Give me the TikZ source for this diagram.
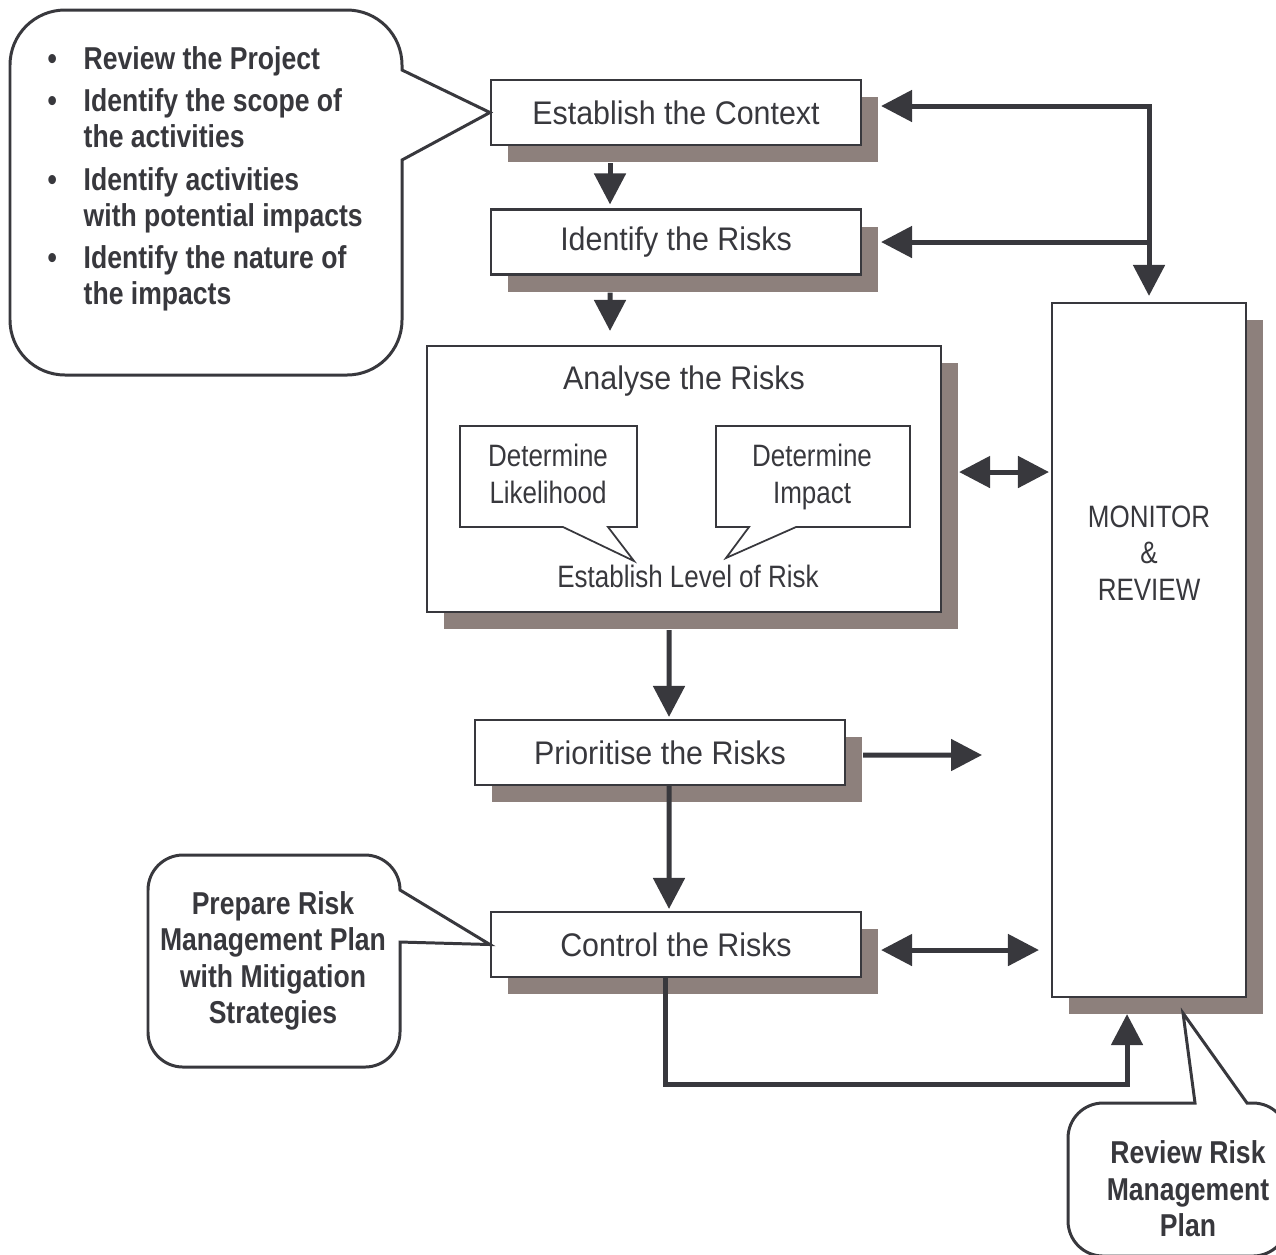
\documentclass[tikz,border=0pt]{standalone}
\usepackage{fontspec}
\setmainfont{Liberation Sans}
\newfontfamily\regfont[FakeStretch=0.93]{Liberation Sans}
\newfontfamily\narrowfont[FakeStretch=0.84]{Liberation Sans}
\usetikzlibrary{calc,arrows.meta,shadows}
\definecolor{ink}{RGB}{56,56,61}
\definecolor{shadowgray}{RGB}{141,128,124}

\begin{document}
\begin{tikzpicture}[x=0.1mm,y=-0.1mm,
    >={Triangle[length=3.1mm,width=3.1mm]},
    stage/.style={draw=ink, line width=0.6pt, fill=white, inner sep=0pt,
        minimum width=3.7cm, minimum height=0.65cm, text=ink,
        font=\regfont\fontsize{9.3pt}{11pt}\selectfont,
        drop shadow={shadow xshift=1.7mm, shadow yshift=-1.7mm, fill=shadowgray, opacity=1}},
    flow/.style={draw=ink, line width=0.5mm, ->},
    twoway/.style={draw=ink, line width=0.5mm, <->},
    balloon/.style={draw=ink, line width=0.85pt, fill=white},
    tag/.style={draw=ink, line width=0.5pt, fill=white},
    note/.style={text=ink, inner sep=0pt, align=center,
        font=\narrowfont\bfseries\fontsize{9pt}{10.4pt}\selectfont},
    small/.style={text=ink, inner sep=0pt, align=center,
        font=\narrowfont\fontsize{8.8pt}{10.3pt}\selectfont}]
    \useasboundingbox (0,0) rectangle (1276,1254);
    \clip (0,0) rectangle (1276,1254);

    % process boxes
    \node[stage] (ctx) at (676,112.5) {Establish the Context};
    \node[stage] (ident) at (676,242) {Identify the Risks};
    \node[stage, minimum width=5.14cm, minimum height=2.66cm] (anal) at (684,479) {};
    \node[stage] (prio) at (660,752.5) {Prioritise the Risks};
    \node[stage] (ctrl) at (676,944.5) {Control the Risks};
    \node[stage, minimum width=1.94cm, minimum height=6.94cm] (mon) at (1149,650) {};
    \node[small] (montxt) at (1149,553) {MONITOR\\\&\\REVIEW};

    % inside the analysis box
    \node[text=ink, font=\regfont\fontsize{9.3pt}{11pt}\selectfont] (analtxt) at (684,381) {Analyse the Risks};
    \draw[tag] (460,426) -- (637,426) -- (637,527) -- (608,527) -- (634,561)
        -- (563,527) -- (460,527) -- cycle;
    \node[small] (lik) at (548,474) {Determine\\Likelihood};
    \draw[tag] (716,426) -- (910,426) -- (910,527) -- (796,527) -- (726,558)
        -- (749,527) -- (716,527) -- cycle;
    \node[small] (imp) at (812,477) {Determine\\Impact};
    \node[small] (lvl) at (688,576) {Establish Level of Risk};

    % flow
    \draw[flow] ([xshift=-6.6mm,yshift=-1.7mm]ctx.south) -- ([xshift=-6.6mm,yshift=0.4mm]ident.north);
    \draw[flow] ([xshift=-6.6mm,yshift=-1.7mm]ident.south) -- ([xshift=-7.4mm,yshift=1.4mm]anal.north);
    \draw[flow] ([xshift=-1.5mm,yshift=-1.7mm]anal.south) -- ([xshift=0.9mm,yshift=0.2mm]prio.north);
    \draw[flow] ([xshift=0.9mm]prio.south) -- ([xshift=-0.7mm,yshift=0.2mm]ctrl.north);
    \coordinate (prioout) at (982,755);
    \draw[flow] ([xshift=1.7mm,yshift=-0.25mm]prio.east) -- (prioout);
    \draw[twoway] ([xshift=1.7mm,yshift=0.7mm]anal.east) coordinate (a1) -- ($(mon.west |- a1)+(-2,0)$);
    \draw[twoway] ([xshift=1.9mm,yshift=-0.55mm]ctrl.east) coordinate (c1) -- ($(mon.west |- c1)+(-12,0)$);

    % feedback to the top
    \draw[twoway] ([xshift=1.9mm,yshift=0.65mm]ctx.east) -| ([yshift=0.6mm]mon.north);
    \draw[flow] (mon.north |- ident.east) -- ([xshift=1.9mm]ident.east);
    \draw[flow] ([xshift=-1.1mm]ctrl.south) -- ++(0,106) -| ([xshift=-2.2mm,yshift=-1.6mm]mon.south);

    % call-outs
    \draw[balloon] (200,10) [rounded corners=5.5mm] -- (402,10) [sharp corners] -- (402,70)
        -- (ctx.west) -- (402,160) [rounded corners=5.5mm] -- (402,375)
        -- (10,375) -- (10,10) -- cycle;
    \node[note, align=left, anchor=north west, font=\narrowfont\bfseries\fontsize{9pt}{10.25pt}\selectfont]
        (scope) at (47,46) {%
        \makebox[3.6mm][l]{\textbullet}Review the Project\\[0.62mm]
        \makebox[3.6mm][l]{\textbullet}Identify the scope of\\
        \hspace*{3.6mm}the activities\\[0.62mm]
        \makebox[3.6mm][l]{\textbullet}Identify activities\\
        \hspace*{3.6mm}with potential impacts\\[0.62mm]
        \makebox[3.6mm][l]{\textbullet}Identify the nature of\\
        \hspace*{3.6mm}the impacts};

    \draw[balloon] (270,855) [rounded corners=3.5mm] -- (400,855) [sharp corners] -- (400,890)
        -- (ctrl.west) -- (400,942) [rounded corners=3.5mm] -- (400,1067)
        -- (148,1067) -- (148,855) -- cycle;
    \node[note] (plan) at (273,961) {Prepare Risk\\Management Plan\\with Mitigation\\Strategies};

    \coordinate (revtip) at ($(mon.south)+(34,15)$);
    \draw[balloon] (1068,1180) [rounded corners=3.5mm] -- (1068,1103) [sharp corners] -- (1195,1103)
        -- (revtip) -- (1247,1103) [rounded corners=3.5mm] -- (1288,1103)
        -- (1288,1256) -- (1068,1256) -- cycle;
    \node[note] (review) at (1188,1189) {Review Risk\\Management\\Plan};
\end{tikzpicture}
\end{document}
